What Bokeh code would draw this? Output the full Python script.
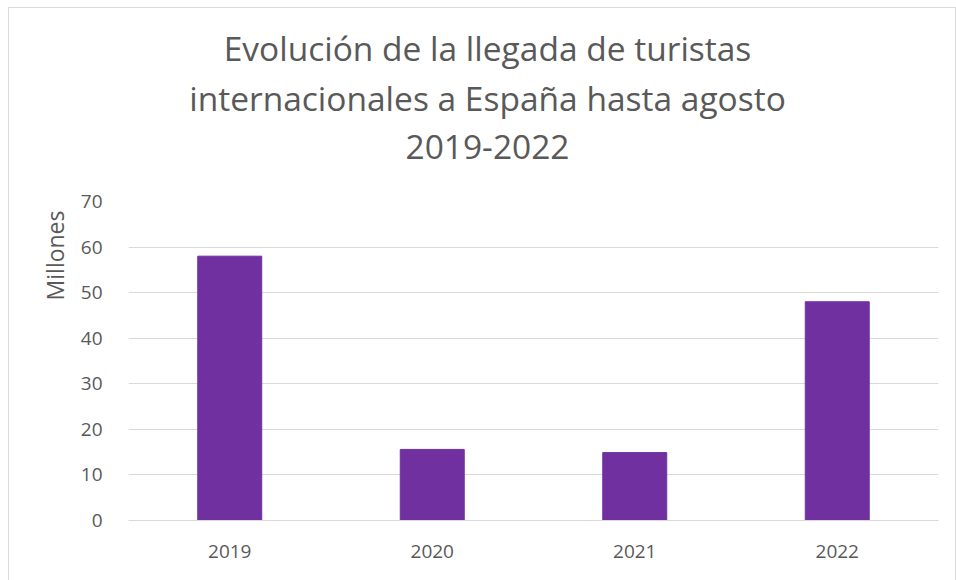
from bokeh.plotting import figure
from bokeh.models import FactorRange, ColumnDataSource, Title, Label
from bokeh.layouts import column
from bokeh.embed import file_html
from bokeh.resources import INLINE

years = ["2019", "2020", "2021", "2022"]
llegadas = [58.0, 15.6, 14.9, 48.0]
y_ticks = [0, 10, 20, 30, 40, 50, 60, 70]
title_lines = ["Evolución de la llegada de turistas",
               "internacionales a España hasta agosto",
               "2019-2022"]

FONT = "Open Sans"
GREY = "#595959"

# ---- title strip (frame aligned with the chart frame: 810 px wide) ----
tf = figure(frame_width=810, frame_height=178, x_range=(0, 810), y_range=(0, 178),
            output_backend="svg", toolbar_location=None, title=None,
            x_axis_type=None, y_axis_type=None,
            min_border_left=119, min_border_right=17, min_border_top=0, min_border_bottom=0)
tf.outline_line_color = None
tf.xgrid.grid_line_color = None
tf.ygrid.grid_line_color = None
for i, line in enumerate(title_lines):
    tf.add_layout(Label(x=359, y=138.5 - 49.5 * i, text=line, text_align="center",
                        text_baseline="alphabetic", text_font=FONT,
                        text_font_size="33.5px", text_color=GREY))

# ---- chart ----
src = ColumnDataSource(dict(x=years, y=llegadas))

p = figure(frame_width=810, frame_height=319, x_range=FactorRange(*years, range_padding=0),
           y_range=(0, 70), output_backend="svg", toolbar_location=None,
           title=None, min_border_left=119, min_border_right=17,
           min_border_top=15, min_border_bottom=60)
p.outline_line_color = None

p.vbar(x="x", top="y", width=0.316, source=src, color="#7030A0")

p.add_layout(Title(text="Millones", align="right", offset=9, standoff=13,
                   text_font=FONT, text_font_size="23px", text_color=GREY,
                   text_font_style="normal"), "left")

p.yaxis.ticker = y_ticks
p.yaxis.axis_line_color = None
p.yaxis.major_tick_line_color = None
p.yaxis.minor_tick_line_color = None
p.yaxis.major_label_text_font = FONT
p.yaxis.major_label_text_font_size = "19px"
p.yaxis.major_label_text_color = GREY
p.yaxis.major_label_standoff = 20

p.xaxis.axis_line_color = "#d9d9d9"
p.xaxis.major_tick_line_color = None
p.xaxis.minor_tick_line_color = None
p.xaxis.major_label_text_font = FONT
p.xaxis.major_label_text_font_size = "19px"
p.xaxis.major_label_text_color = GREY
p.xaxis.major_label_standoff = 18

p.xgrid.grid_line_color = None
p.ygrid.grid_line_color = "#d9d9d9"
p.ygrid.grid_line_width = 1

layout = column(tf, p, spacing=0)
layout.margin = (7, 0, 0, 8)
layout.styles = {"border": "1px solid #d9d9d9"}

open("out.html", "w").write(file_html(layout, INLINE))
